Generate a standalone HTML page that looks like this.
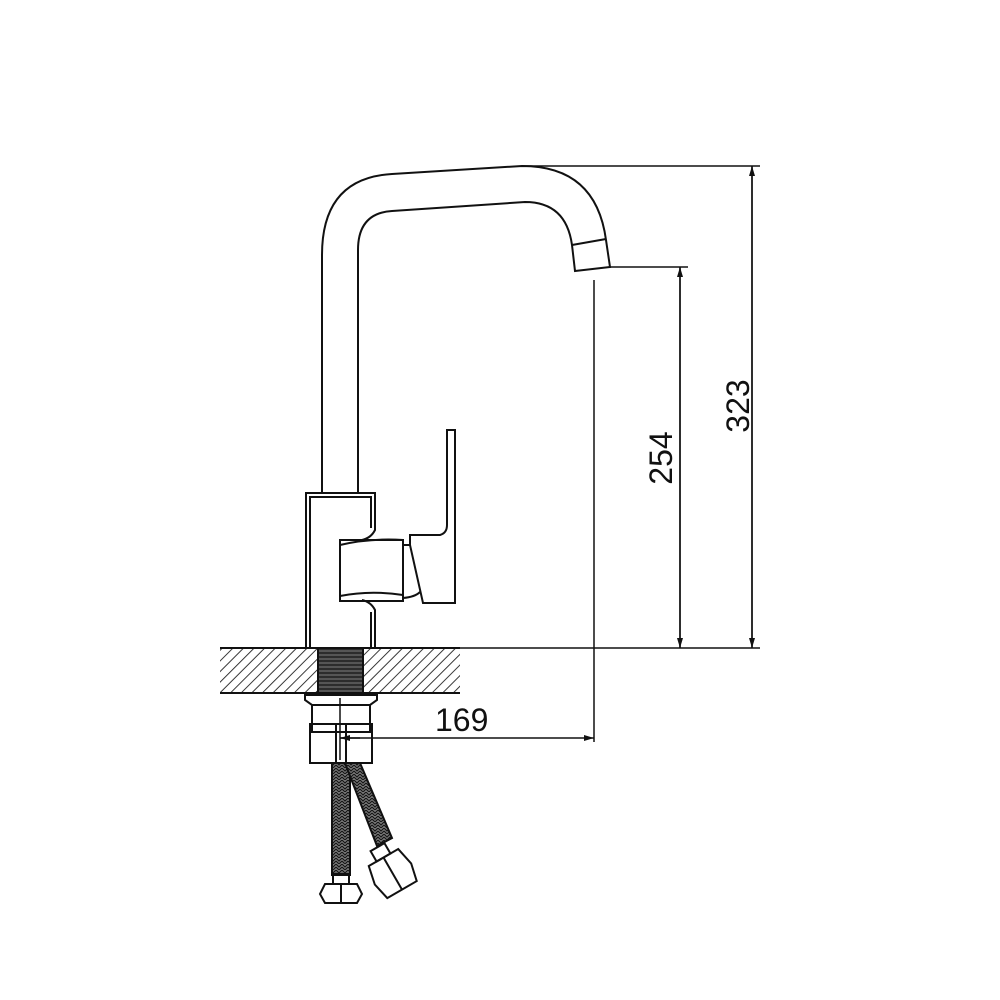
<!DOCTYPE html>
<html><head><style>
html,body{margin:0;padding:0;background:#fff;}
svg{display:block}
text{font-family:"Liberation Sans",Arial,sans-serif;font-size:32px;fill:#111}
</style></head><body>
<svg width="1000" height="1000" viewBox="0 0 1000 1000" xmlns="http://www.w3.org/2000/svg">
<defs>
<pattern id="h" width="7.5" height="7.5" patternUnits="userSpaceOnUse" patternTransform="rotate(45)">
<line x1="0" y1="0" x2="0" y2="7.5" stroke="#222" stroke-width="1.8"/>
</pattern>
<pattern id="th" width="6" height="4" patternUnits="userSpaceOnUse">
<rect width="6" height="4" fill="#555"/><line x1="0" y1="1" x2="6" y2="1" stroke="#111" stroke-width="1.2"/>
</pattern>
<pattern id="br" width="6" height="6" patternUnits="userSpaceOnUse">
<rect width="6" height="6" fill="#777"/><path d="M0 0L3 3L6 0M0 3L3 6L6 3" stroke="#111" stroke-width="1" fill="none"/>
</pattern>
<marker id="a" markerWidth="10" markerHeight="6" refX="10" refY="3" orient="auto" markerUnits="userSpaceOnUse"><path d="M0 0L10 3L0 6z" fill="#111"/></marker>
</defs>
<g fill="none" stroke="#111" stroke-width="2">
<path d="M322 493 L322 255 Q322 178 392 174 L522 166 Q596 166 606 240 L610 267 L575 271 L572 245 Q566 202 525 202 L392 211 Q358 213 358 250 L358 493"/>
<line x1="572" y1="245" x2="606" y2="239"/>
<path d="M306 648 L306 493 L375 493 L375 530 Q371 538 362 540"/>
<path d="M310 648 L310 497 L371 497 L371 528"/>
<path d="M375 648 L375 610 Q371 602 362 600"/>
<line x1="371" y1="648" x2="371" y2="612"/>
<rect x="340" y="540" width="63" height="61"/>
<path d="M340 545 Q370 538 403 540"/>
<path d="M340 596 Q370 590 403 595"/>
<path d="M447 430 L455 430 L455 603 L423 603 L410 545 L410 535 L440 535 Q447 533 447 525 Z"/>
<path d="M403 545 L410 545 M403 598 Q415 597 420 592"/>
<g stroke-width="1.5">
<line x1="522" y1="166" x2="760" y2="166"/>
<line x1="610" y1="267" x2="688" y2="267"/>
<line x1="460" y1="648" x2="760" y2="648"/>
<line x1="752" y1="648" x2="752" y2="166" marker-end="url(#a)"/>
<line x1="752" y1="166" x2="752" y2="648" marker-end="url(#a)"/>
<line x1="680" y1="648" x2="680" y2="267" marker-end="url(#a)"/>
<line x1="680" y1="267" x2="680" y2="648" marker-end="url(#a)"/>
<line x1="594" y1="280" x2="594" y2="742"/>
<line x1="340" y1="738" x2="594" y2="738" marker-end="url(#a)"/>
<line x1="360" y1="738" x2="340" y2="738" marker-end="url(#a)"/>
<line x1="340" y1="698" x2="340" y2="760"/>
</g>
<rect x="220" y="648" width="98" height="45" fill="url(#h)" stroke="none"/>
<rect x="363" y="648" width="97" height="45" fill="url(#h)" stroke="none"/>
<line x1="220" y1="648" x2="460" y2="648"/>
<line x1="220" y1="693" x2="460" y2="693"/>
<rect x="318" y="648" width="45" height="45" fill="url(#th)"/>
<path d="M305 695 L377 695 L377 700 L370 705 L312 705 L305 700 Z"/>
<rect x="312" y="705" width="58" height="27"/>
<rect x="310" y="724" width="62" height="39"/>
<line x1="336" y1="724" x2="336" y2="763"/>
<line x1="346" y1="724" x2="346" y2="763"/>
<rect x="332" y="763" width="18" height="112" fill="url(#br)"/>
<polygon points="345,763 360,763 392,838 377,846" fill="url(#br)"/>
<rect x="333" y="874" width="16" height="10"/>
<path d="M325 884 L357 884 L362 894 L357 903 L325 903 L320 894 Z"/>
<line x1="341" y1="884" x2="341" y2="903"/>
<g transform="rotate(-30 393 874)">
<rect x="385" y="843" width="16" height="12"/>
<path d="M376 855 L410 855 L414 874 L410 892 L376 892 L372 874 Z"/>
<line x1="393" y1="855" x2="393" y2="892"/>
</g>
</g>
<text x="435" y="731">169</text>
<text transform="translate(672,458) rotate(-90)" text-anchor="middle">254</text>
<text transform="translate(749,406) rotate(-90)" text-anchor="middle">323</text>
</svg>
</body></html>
